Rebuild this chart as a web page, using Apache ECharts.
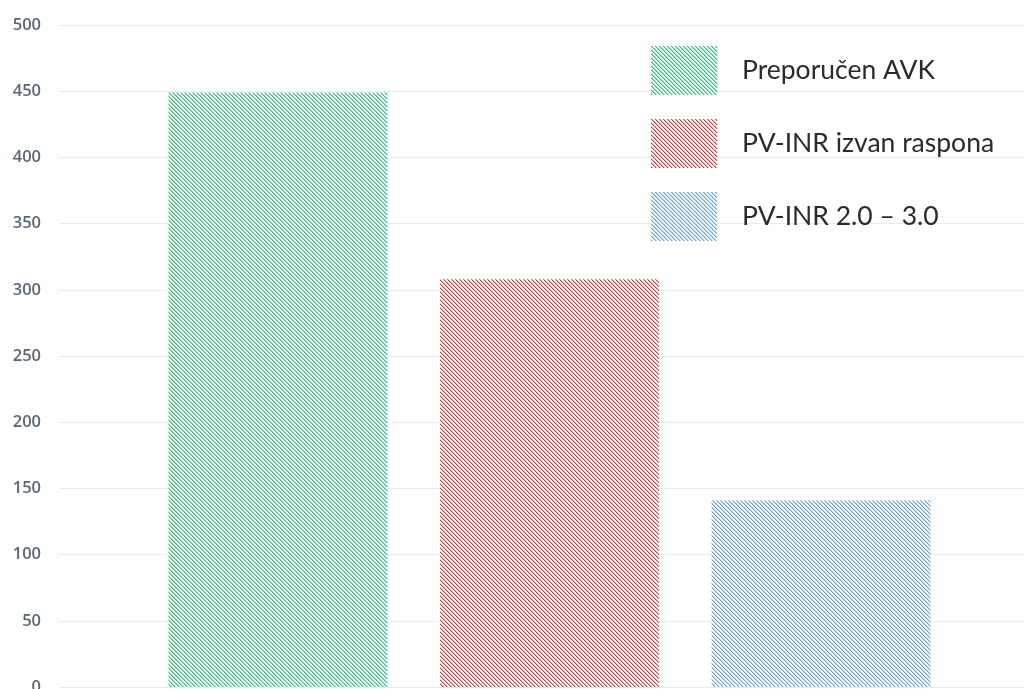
<!DOCTYPE html>
<html>
<head>
<meta charset="utf-8">
<script src="https://cdn.jsdelivr.net/npm/echarts@6/dist/echarts.min.js"></script>
<style>
  html, body { margin: 0; padding: 0; background: #fff; }
  #chart { width: 1024px; height: 689px; }
</style>
</head>
<body>
<div id="chart"></div>
<script>
const categories = ['']
const seriesNames = ['Preporučen AVK', 'PV-INR izvan raspona', 'PV-INR 2.0 – 3.0']
const seriesValues = [449, 308, 141]
const seriesColors = [
  ['#92e0b6', '#34c074'],
  ['#f7aaaa', '#e43636'],
  ['#b3d3f2', '#67a2e2']
]

// diagonal hatch tile, lines run top-left to bottom-right
function hatch (light, dark) {
  const size = 4
  const c = document.createElement('canvas')
  c.width = size
  c.height = size
  const ctx = c.getContext('2d')
  ctx.fillStyle = '#ffffff'
  ctx.fillRect(0, 0, size, size)
  for (let y = 0; y < size; y++) {
    ctx.fillStyle = dark
    ctx.fillRect(y % size, y, 1, 1)
    ctx.fillStyle = light
    ctx.fillRect((y + 1) % size, y, 1, 1)
  }
  return { image: c, repeat: 'repeat' }
}

const chart = echarts.init(document.getElementById('chart'))

const option = {
  animation: false,
  grid: {
    left: 59,
    right: -16,
    top: 25,
    bottom: 2,
    outerBoundsMode: 'none'
  },
  legend: {
    orient: 'vertical',
    left: 646,
    top: 41,
    itemWidth: 66,
    itemHeight: 49,
    itemGap: 24,
    icon: 'rect',
    textStyle: {
      fontFamily: 'Lato',
      fontSize: 26.5,
      color: '#2b2b2b',
      padding: [0, 0, 0, 20]
    },
    data: seriesNames
  },
  xAxis: {
    type: 'category',
    data: categories,
    axisLine: { show: false },
    axisTick: { show: false },
    axisLabel: { show: false }
  },
  yAxis: {
    type: 'value',
    min: 0,
    max: 500,
    interval: 50,
    axisLine: { show: false },
    axisTick: { show: false },
    axisLabel: {
      margin: 18,
      color: '#5b667a',
      fontFamily: 'Open Sans',
      fontWeight: 600,
      fontSize: 16.5
    },
    splitLine: { lineStyle: { color: '#e6e9ef', width: 1 } }
  },
  series: seriesNames.map((name, i) => ({
    name: name,
    type: 'bar',
    barWidth: 219,
    barGap: '24%',
    data: [seriesValues[i]],
    itemStyle: {
      color: hatch(seriesColors[i][0], seriesColors[i][1])
    }
  }))
}

chart.setOption(option)
</script>
</body>
</html>
